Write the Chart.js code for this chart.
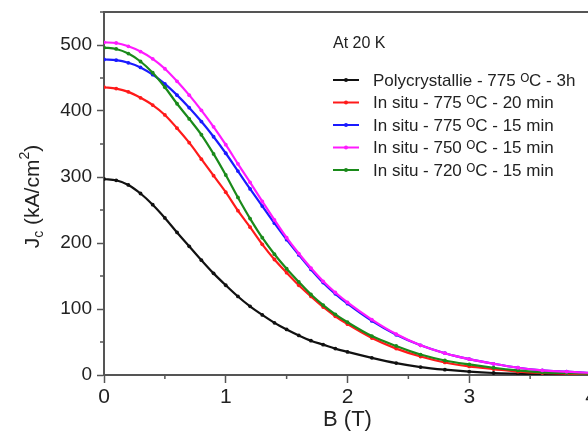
<!DOCTYPE html>
<html>
<head>
<meta charset="utf-8">
<script src="https://cdn.jsdelivr.net/npm/chart.js@4"></script>
<style>
  html, body { margin: 0; padding: 0; background: #fff; overflow: hidden; }
  #wrap { width: 600px; height: 437px; }
</style>
</head>
<body>
<div id="wrap"><canvas id="jcChart" width="600" height="437"></canvas></div>
<script>
// magnetic field B (T)
const fieldB = [0, 0.1, 0.2, 0.3, 0.4, 0.5, 0.6, 0.7, 0.8, 0.9, 1.0, 1.1, 1.2, 1.3, 1.4, 1.5, 1.6, 1.7, 1.8, 1.9, 2.0,
                2.2, 2.4, 2.6, 2.8, 3.0, 3.2, 3.4, 3.6, 3.8, 4.0];

// Jc (kA/cm2)
const jcPoly775 = [297, 295, 288, 275, 258, 238, 216, 195, 174, 154, 136, 119, 104, 91, 79, 69, 60, 52, 46, 40, 35,
                   26, 18, 12, 8, 5, 3, 2, 1, 0.5, 0.3];
const jcInSitu775_20 = [436, 434, 429, 420, 409, 394, 374, 352, 327, 302, 277, 249, 224, 198, 175, 155, 136, 119, 103, 89, 77,
                        56, 40, 28, 19, 13, 9, 5, 3, 2, 1];
const jcInSitu775_15 = [478, 477, 473, 466, 455, 441, 424, 405, 384, 361, 336, 309, 282, 256, 230, 205, 182, 160, 140, 123, 108,
                        82, 61, 45, 33, 24, 17, 11, 7, 5, 3];
const jcInSitu750_15 = [504, 503, 498, 490, 479, 464, 445, 424, 401, 376, 349, 320, 292, 263, 235, 208, 184, 162, 142, 125, 110,
                        84, 62, 45, 33, 24, 17, 11, 7, 5, 3];
const jcInSitu720_15 = [496, 494, 487, 475, 458, 436, 411, 388, 364, 335, 303, 269, 237, 208, 183, 161, 141, 122, 106, 92, 80,
                        59, 44, 31, 22, 16, 11, 7, 4, 3, 2];

const seriesLabels = [
  'Polycrystallie - 775 ᴼC - 3h',
  'In situ - 775 ᴼC - 20 min',
  'In situ - 775 ᴼC - 15 min',
  'In situ - 750 ᴼC - 15 min',
  'In situ - 720 ᴼC - 15 min'
];
const seriesValues = [jcPoly775, jcInSitu775_20, jcInSitu775_15, jcInSitu750_15, jcInSitu720_15];
const seriesColors = ['#111111', '#ff1a1a', '#1a1aff', '#ff1aff', '#1a8a1a'];
const legendTitle = 'At 20 K';

const axisColor = '#555';
const font = 'Arial, "Liberation Sans", sans-serif';

// minor ticks, top frame line, y title with sub/superscript, inset legend
const decorPlugin = {
  id: 'decor',
  afterDraw(chart) {
    const ctx = chart.ctx;
    const a = chart.chartArea;
    const xs = chart.scales.x, ys = chart.scales.y;
    ctx.save();
    ctx.strokeStyle = axisColor;
    ctx.lineWidth = 2;
    // top frame
    ctx.beginPath();
    ctx.moveTo(a.left - 1, a.top);
    ctx.lineTo(a.right + 1, a.top);
    ctx.stroke();
    // minor ticks
    ctx.lineWidth = 1.5;
    xs.ticks.forEach(t => {
      if (Math.abs(t.value % 1) > 1e-6) {
        const px = xs.getPixelForValue(t.value);
        ctx.beginPath(); ctx.moveTo(px, a.bottom); ctx.lineTo(px, a.bottom + 4); ctx.stroke();
      }
    });
    ys.ticks.forEach(t => {
      if (t.value % 100 !== 0) {
        const py = ys.getPixelForValue(t.value);
        ctx.beginPath(); ctx.moveTo(a.left, py); ctx.lineTo(a.left - 4, py); ctx.stroke();
      }
    });

    // y axis title: J_c (kA/cm^2)
    const cy = (a.top + a.bottom) / 2 + 3;
    ctx.translate(33, cy);
    ctx.rotate(-Math.PI / 2);
    ctx.fillStyle = '#222';
    ctx.textBaseline = 'middle';
    const big = '21px ' + font, small = '14px ' + font;
    const parts = [
      { t: 'J', f: big, dy: 0 },
      { t: 'c', f: small, dy: 6 },
      { t: ' (kA/cm', f: big, dy: 0 },
      { t: '2', f: small, dy: -8 },
      { t: ')', f: big, dy: 0 }
    ];
    let total = 0;
    parts.forEach(p => { ctx.font = p.f; p.w = ctx.measureText(p.t).width; total += p.w; });
    let x = -total / 2;
    parts.forEach(p => { ctx.font = p.f; ctx.fillText(p.t, x, p.dy); x += p.w; });
    ctx.restore();

    // inset legend
    ctx.save();
    ctx.fillStyle = '#222';
    ctx.textBaseline = 'middle';
    ctx.font = '16px ' + font;
    ctx.fillText(legendTitle, 333, 44);
    ctx.font = '17px ' + font;
    seriesLabels.forEach((lab, i) => {
      const y = 80 + i * 22.5;
      ctx.strokeStyle = seriesColors[i];
      ctx.lineWidth = 2;
      ctx.beginPath(); ctx.moveTo(333, y); ctx.lineTo(359, y); ctx.stroke();
      ctx.fillStyle = seriesColors[i];
      ctx.beginPath(); ctx.arc(346, y, 2, 0, Math.PI * 2); ctx.fill();
      ctx.fillStyle = '#222';
      ctx.fillText(lab, 373, y + 1);
    });
    ctx.restore();
  }
};

const ctx = document.getElementById('jcChart').getContext('2d');
new Chart(ctx, {
  type: 'line',
  data: {
    datasets: seriesValues.map((vals, i) => ({
      label: seriesLabels[i],
      data: fieldB.map((b, k) => ({ x: b, y: vals[k] })),
      borderColor: seriesColors[i],
      backgroundColor: seriesColors[i],
      borderWidth: 2.2,
      pointRadius: 1.9,
      pointBorderWidth: 0,
      pointBackgroundColor: seriesColors[i],
      cubicInterpolationMode: 'monotone',
      fill: false,
      order: [5, 4, 3, 1, 2][i]
    }))
  },
  options: {
    responsive: false,
    animation: false,
    layout: { padding: { top: 12, right: 9, left: 0, bottom: 0 } },
    plugins: { legend: { display: false }, tooltip: { enabled: false } },
    scales: {
      x: {
        type: 'linear', min: 0, max: 4,
        afterFit: s => { s.height = 62; },
        ticks: {
          stepSize: 0.5, autoSkip: false, maxRotation: 0, padding: 2,
          color: '#222', font: { family: font, size: 21 },
          callback: v => (Math.abs(v % 1) < 1e-6 ? String(v) : '')
        },
        grid: {
          drawOnChartArea: false, tickLength: 8, tickWidth: 1.5,
          tickColor: c => (c.tick && Math.abs(c.tick.value % 1) < 1e-6 ? axisColor : 'rgba(0,0,0,0)')
        },
        border: { color: axisColor, width: 2 },
        title: { display: true, text: 'B (T)', color: '#222', font: { family: font, size: 22 }, padding: { top: 0, bottom: 4 } }
      },
      y: {
        type: 'linear', min: 0, max: 550,
        afterFit: s => { s.width = 104; s.paddingTop = 0; s.paddingBottom = 0; },
        ticks: {
          stepSize: 50, autoSkip: false, padding: 5,
          color: '#222', font: { family: font, size: 19 },
          callback: v => (v % 100 === 0 ? String(v) : '')
        },
        grid: {
          drawOnChartArea: false, tickLength: 7, tickWidth: 1.5,
          tickColor: c => (c.tick && c.tick.value % 100 === 0 ? axisColor : 'rgba(0,0,0,0)')
        },
        border: { color: axisColor, width: 2 }
      }
    }
  },
  plugins: [decorPlugin]
});
</script>
</body>
</html>
